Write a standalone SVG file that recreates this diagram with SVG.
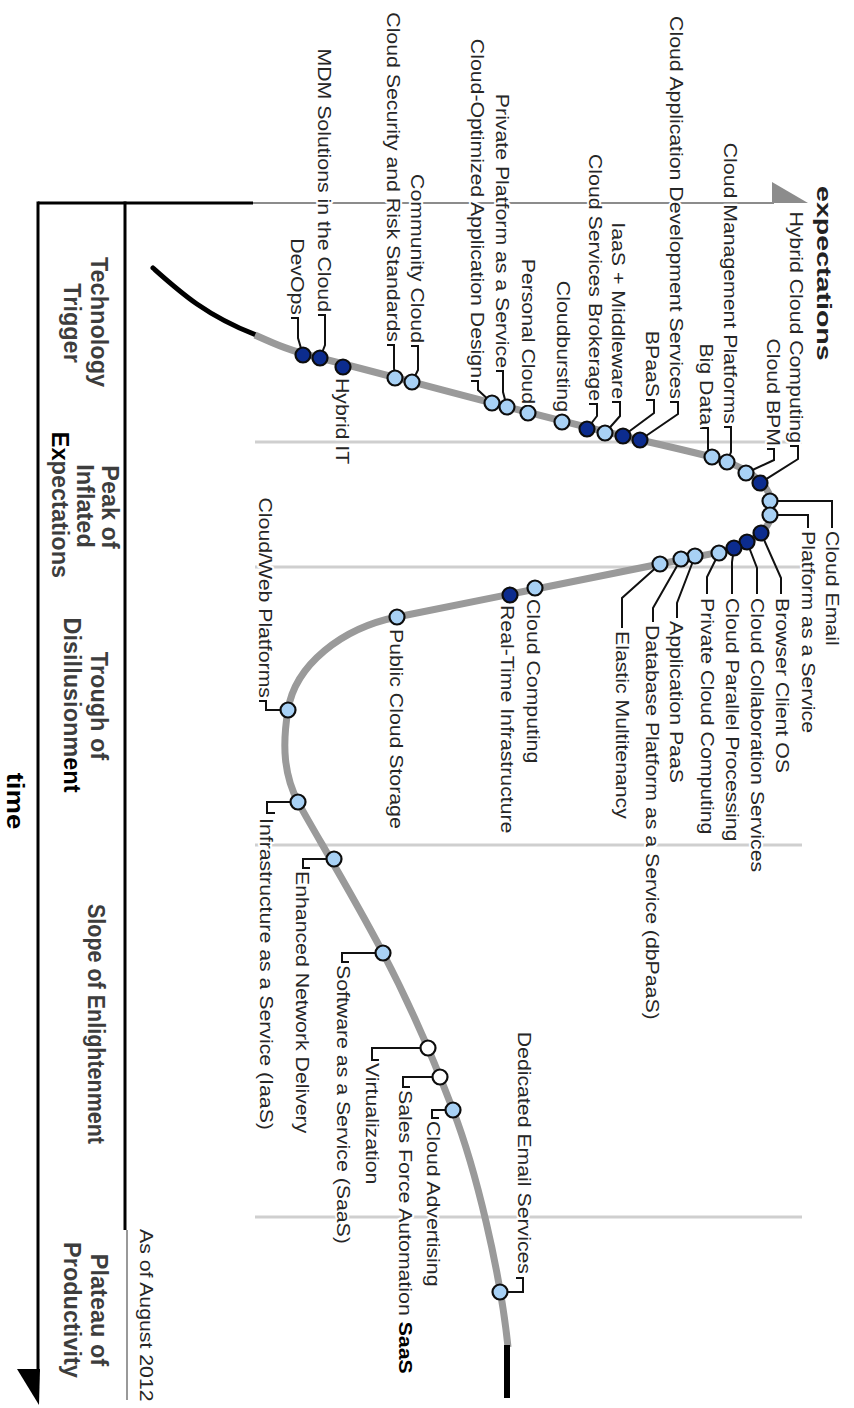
<svg xmlns="http://www.w3.org/2000/svg" width="854" height="1408" viewBox="0 0 854 1408">
<style>
  text { font-family: "Liberation Sans", Arial, sans-serif; }
  .lbl { font-size: 18.5px; fill: #262626; paint-order: stroke; stroke: #fff; stroke-width: 4px; stroke-linejoin: round; }
  .end { text-anchor: end; }
  .phase { font-size: 23.5px; font-weight: bold; fill: #3d3d3d; text-anchor: middle; }
  .blk { fill: #000; }
  .ldr { fill: none; stroke: #111; stroke-width: 2; }
  .dot { stroke: #0d0d0d; stroke-width: 2.2; }
  .lt { fill: #a8d1f5; }
  .dk { fill: #0c2c8e; }
  .wt { fill: #fff; }
  .phl { stroke: #cfcfcf; stroke-width: 3; }
</style>
<rect width="854" height="1408" fill="#fff"/>

<!-- axes: time runs down the page, expectations to the right -->
<g id="axes">
  <line x1="38" y1="203" x2="253" y2="203" stroke="#000" stroke-width="3"/>
  <line x1="253" y1="203" x2="774" y2="203" stroke="#8c8c8c" stroke-width="2"/>
  <polygon points="772,182 808,203 772,203" fill="#8c8c8c"/>
  <line x1="38" y1="201.5" x2="38" y2="1372" stroke="#000" stroke-width="3"/>
  <polygon points="17,1369 40,1369 39,1405" fill="#000"/>
  <line x1="125" y1="201.5" x2="125" y2="1230" stroke="#000" stroke-width="3"/>
  <line x1="127" y1="1230" x2="127" y2="1400" stroke="#999" stroke-width="2"/>
  <text transform="matrix(0 1.43 -1 0 817 186)" font-size="20" font-weight="bold" fill="#222">expectations</text>
  <text transform="matrix(0 1.15 -1 0 7 801)" font-size="24" font-weight="bold" fill="#000" text-anchor="middle">time</text>
  <text class="lbl" transform="matrix(0 1.15 -1 0 140 1229)">As of August 2012</text>
</g>

<!-- phase separators -->
<g id="phase-lines">
  <line class="phl" x1="255" y1="442" x2="802" y2="442"/>
  <line class="phl" x1="255" y1="567" x2="802" y2="567"/>
  <line class="phl" x1="255" y1="845" x2="802" y2="845"/>
  <line class="phl" x1="255" y1="1217" x2="802" y2="1217"/>
</g>

<!-- phase names -->
<g id="phases">
  <g id="phase-trigger">
    <text class="phase" transform="matrix(0 1 -1 0 91 322)">Technology</text>
    <text class="phase" transform="matrix(0 1 -1 0 64 323)">Trigger</text>
  </g>
  <g id="phase-peak">
    <text class="phase" transform="matrix(0 1 -1 0 102 507)">Peak of</text>
    <text class="phase" transform="matrix(0 1 -1 0 77 506)">Inflated</text>
    <text class="phase" transform="matrix(0 1 -1 0 52 505)"><tspan class="blk">Ex</tspan>pectations</text>
  </g>
  <g id="phase-trough">
    <text class="phase" transform="matrix(0 1 -1 0 91 706)">Trough of</text>
    <text class="phase" transform="matrix(0 1 -1 0 64 705)">Disillusionm<tspan class="blk">ent</tspan></text>
  </g>
  <g id="phase-slope">
    <text class="phase" transform="matrix(0 1 -1 0 88 1024)" textLength="240" lengthAdjust="spacingAndGlyphs">Slope of Enlightenment</text>
  </g>
  <g id="phase-plateau">
    <text class="phase" transform="matrix(0 1 -1 0 91 1310)">Plateau of</text>
    <text class="phase" transform="matrix(0 1 -1 0 64 1310)">Productivity</text>
  </g>
</g>

<!-- the hype curve -->
<g id="curve">
  <path d="M153,268 C180,292 205,315 256,335" fill="none" stroke="#000" stroke-width="5" stroke-linecap="round"/>
  <path d="M255,335 C275,344 290,351 320,358 C400,378 520,412 640,440 C680,449 700,454 712,457 C740,465 772,480 772,508 C772,535 745,548 700,556 L660,564 L397,617 C342,628 295,665 288,710 C282,746 284,775 298,802 C310,825 350,890 383,953 C405,995 430,1050 453,1110 C476,1170 500,1270 508,1347" fill="none" stroke="#9a9a9a" stroke-width="7"/>
  <line x1="507" y1="1345" x2="507" y2="1398" stroke="#000" stroke-width="6"/>
</g>

<!-- leader lines from labels to their markers -->
<g id="connectors" class="ldr">
  <path d="M670,402 H678 V414 L640,440"/>
  <path d="M646,400 H654 V413 L623,436"/>
  <path d="M612,402 H620 V416 L605,433"/>
  <path d="M589,404 H597 V416 L587,429"/>
  <path d="M496,371 H503 V392 L507,407"/>
  <path d="M471,381 H478 V390 L492,403"/>
  <path d="M411,346 H418 V370 L412,382"/>
  <path d="M387,345 H394 V368 L395,378"/>
  <path d="M318,315 H325 V345 L320,358"/>
  <path d="M291,318 H298 V338 L303,355"/>
  <path d="M700,428 H708 V449 L712,457"/>
  <path d="M724,427 H731 V452 L727,462"/>
  <path d="M767,449 H774 V460 L746,473"/>
  <path d="M790,446 H798 V459 L760,483"/>
  <path d="M770,501 H832 V528"/>
  <path d="M770,515 H808 V528"/>
  <path d="M761,533 L781,578 V594"/>
  <path d="M747,542 L757,568 V594"/>
  <path d="M734,548 L732,562 V594"/>
  <path d="M719,553 L707,577 V594"/>
  <path d="M695,556 L677,603 V618"/>
  <path d="M681,559 L653,608 V622"/>
  <path d="M660,564 L622,598 V628"/>
  <path d="M259,701 H266 V710 H288"/>
  <path d="M298,802 H267 V813 H275"/>
  <path d="M334,859 H303 V868 H310"/>
  <path d="M383,953 H342 V962 H349"/>
  <path d="M428,1048 H372 V1060 H379"/>
  <path d="M440,1077 H403 V1087 H410"/>
  <path d="M453,1110 H432 V1118 H439"/>
  <path d="M516,1278 H523 V1292 H500"/>
</g>

<!-- technologies -->
<g id="n-devops"><circle class="dot dk" cx="303" cy="355" r="7.5"/><text class="lbl end" transform="matrix(0 1.15 -1 0 291 315)">DevOps</text></g>
<g id="n-mdm"><circle class="dot dk" cx="320" cy="358" r="7.5"/><text class="lbl end" transform="matrix(0 1.15 -1 0 318 312)">MDM Solutions in the Cloud</text></g>
<g id="n-hybrid-it"><circle class="dot dk" cx="343" cy="367" r="7.5"/><text class="lbl" transform="matrix(0 1.15 -1 0 336 378)">Hybrid IT</text></g>
<g id="n-cloud-security"><circle class="dot lt" cx="395" cy="378" r="7.5"/><text class="lbl end" transform="matrix(0 1.15 -1 0 387 342)">Cloud Security and Risk Standards</text></g>
<g id="n-community-cloud"><circle class="dot lt" cx="412" cy="382" r="7.5"/><text class="lbl end" transform="matrix(0 1.15 -1 0 411 343)">Community Cloud</text></g>
<g id="n-cloud-optimized"><circle class="dot lt" cx="492" cy="403" r="7.5"/><text class="lbl end" transform="matrix(0 1.15 -1 0 471 378)">Cloud-Optimized Application Design</text></g>
<g id="n-private-paas"><circle class="dot lt" cx="507" cy="407" r="7.5"/><text class="lbl end" transform="matrix(0 1.15 -1 0 496 368)">Private Platform as a Service</text></g>
<g id="n-personal-cloud"><circle class="dot lt" cx="528" cy="413" r="7.5"/><text class="lbl end" transform="matrix(0 1.15 -1 0 522 404)">Personal Cloud</text></g>
<g id="n-cloudbursting"><circle class="dot lt" cx="562" cy="422" r="7.5"/><text class="lbl end" transform="matrix(0 1.15 -1 0 557 412)">Cloudbursting</text></g>
<g id="n-brokerage"><circle class="dot dk" cx="587" cy="429" r="7.5"/><text class="lbl end" transform="matrix(0 1.15 -1 0 589 401)">Cloud Services Brokerage</text></g>
<g id="n-iaas-middleware"><circle class="dot lt" cx="605" cy="433" r="7.5"/><text class="lbl end" transform="matrix(0 1.15 -1 0 612 399)">IaaS + Middleware</text></g>
<g id="n-bpaas"><circle class="dot dk" cx="623" cy="436" r="7.5"/><text class="lbl end" transform="matrix(0 1.15 -1 0 646 397)">BPaaS</text></g>
<g id="n-app-dev"><circle class="dot dk" cx="640" cy="440" r="7.5"/><text class="lbl end" transform="matrix(0 1.15 -1 0 670 399)">Cloud Application Development Services</text></g>
<g id="n-big-data"><circle class="dot lt" cx="712" cy="457" r="7.5"/><text class="lbl end" transform="matrix(0 1.15 -1 0 700 425)">Big Data</text></g>
<g id="n-cloud-mgmt"><circle class="dot lt" cx="727" cy="462" r="7.5"/><text class="lbl end" transform="matrix(0 1.15 -1 0 724 424)">Cloud Management Platforms</text></g>
<g id="n-cloud-bpm"><circle class="dot lt" cx="746" cy="473" r="7.5"/><text class="lbl end" transform="matrix(0 1.15 -1 0 767 446)">Cloud BPM</text></g>
<g id="n-hybrid-cloud"><circle class="dot dk" cx="760" cy="483" r="7.5"/><text class="lbl end" transform="matrix(0 1.15 -1 0 790 443)">Hybrid Cloud Computing</text></g>
<g id="n-cloud-email"><circle class="dot lt" cx="770" cy="501" r="7.5"/><text class="lbl" transform="matrix(0 1.15 -1 0 826 531)">Cloud Email</text></g>
<g id="n-paas"><circle class="dot lt" cx="770" cy="515" r="7.5"/><text class="lbl" transform="matrix(0 1.15 -1 0 802 531)">Platform as a Service</text></g>
<g id="n-browser-os"><circle class="dot dk" cx="761" cy="533" r="7.5"/><text class="lbl" transform="matrix(0 1.15 -1 0 776 598)">Browser Client OS</text></g>
<g id="n-collab"><circle class="dot dk" cx="747" cy="542" r="7.5"/><text class="lbl" transform="matrix(0 1.15 -1 0 751 598)">Cloud Collaboration Services</text></g>
<g id="n-parallel"><circle class="dot dk" cx="734" cy="548" r="7.5"/><text class="lbl" transform="matrix(0 1.15 -1 0 726 598)">Cloud Parallel Processing</text></g>
<g id="n-private-cloud"><circle class="dot lt" cx="719" cy="553" r="7.5"/><text class="lbl" transform="matrix(0 1.15 -1 0 701 598)">Private Cloud Computing</text></g>
<g id="n-app-paas"><circle class="dot lt" cx="695" cy="556" r="7.5"/><text class="lbl" transform="matrix(0 1.15 -1 0 670 621)">Application PaaS</text></g>
<g id="n-dbpaas"><circle class="dot lt" cx="681" cy="559" r="7.5"/><text class="lbl" transform="matrix(0 1.15 -1 0 646 625)">Database Platform as a Service (dbPaaS)</text></g>
<g id="n-multitenancy"><circle class="dot lt" cx="660" cy="564" r="7.5"/><text class="lbl" transform="matrix(0 1.15 -1 0 616 631)">Elastic Multitenancy</text></g>
<g id="n-cloud-computing"><circle class="dot lt" cx="535" cy="588" r="7.5"/><text class="lbl" transform="matrix(0 1.15 -1 0 527 599)">Cloud Computing</text></g>
<g id="n-real-time"><circle class="dot dk" cx="510" cy="595" r="7.5"/><text class="lbl" transform="matrix(0 1.15 -1 0 501 605)">Real-Time Infrastructure</text></g>
<g id="n-public-storage"><circle class="dot lt" cx="397" cy="617" r="7.5"/><text class="lbl" transform="matrix(0 1.15 -1 0 390 629)">Public Cloud Storage</text></g>
<g id="n-web-platforms"><circle class="dot lt" cx="288" cy="710" r="7.5"/><text class="lbl end" transform="matrix(0 1.15 -1 0 259 698)">Cloud/Web Platforms</text></g>
<g id="n-iaas"><circle class="dot lt" cx="298" cy="802" r="7.5"/><text class="lbl" transform="matrix(0 1.15 -1 0 260 818)">Infrastructure as a Service (IaaS)</text></g>
<g id="n-network"><circle class="dot lt" cx="334" cy="859" r="7.5"/><text class="lbl" transform="matrix(0 1.15 -1 0 296 871)">Enhanced Network Delivery</text></g>
<g id="n-saas"><circle class="dot lt" cx="383" cy="953" r="7.5"/><text class="lbl" transform="matrix(0 1.15 -1 0 337 965)">Software as a Service (SaaS)</text></g>
<g id="n-virtualization"><circle class="dot wt" cx="428" cy="1048" r="7.5"/><text class="lbl" transform="matrix(0 1.15 -1 0 366 1063)">Virtualization</text></g>
<g id="n-sfa"><circle class="dot wt" cx="440" cy="1077" r="7.5"/><text class="lbl" transform="matrix(0 1.15 -1 0 399 1090)">Sales Force Automation <tspan class="blk" font-weight="bold">SaaS</tspan></text></g>
<g id="n-advertising"><circle class="dot lt" cx="453" cy="1110" r="7.5"/><text class="lbl" transform="matrix(0 1.15 -1 0 427 1121)">Cloud Advertising</text></g>
<g id="n-dedicated-email"><circle class="dot lt" cx="500" cy="1292" r="7.5"/><text class="lbl end" transform="matrix(0 1.15 -1 0 518 1274)">Dedicated Email Services</text></g>
</svg>
